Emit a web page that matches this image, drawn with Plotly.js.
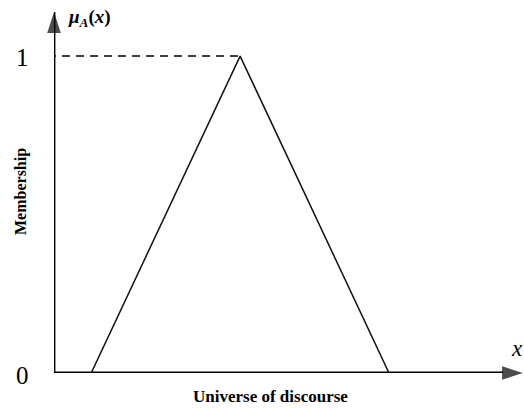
<!DOCTYPE html>
<html>
<head>
<meta charset="utf-8">
<script src="https://cdn.plot.ly/plotly-3.0.1.min.js"></script>
<style>html,body{margin:0;padding:0;background:#fff;}#chart{width:524px;height:409px;}</style>
</head>
<body>
<div id="chart"></div>
<script>
// Triangular membership function data
var xValues = [1, 5, 9];
var membership = [0, 1, 0];
var peakLevel = 1;
var tickLabels = ['0', '1'];
var tickValues = [0, 1];

var W = 524, H = 409;
var m = {l: 54, r: 1, t: 12, b: 36};
var xRange = [0, 12.6];
var yRange = [0, 1.139];
var serif = 'Liberation Serif, Times New Roman, serif';

// pixel -> paper helpers for text placement
function px(p) { return (p - m.l) / (W - m.l - m.r); }
function py(q) { return (H - m.b - q) / (H - m.t - m.b); }

var traces = [
  // membership triangle
  {
    x: xValues, y: membership, mode: 'lines', type: 'scatter',
    line: {color: '#111', width: 1.5}, hoverinfo: 'skip', cliponaxis: false
  },
  // dashed guide at the peak
  {
    x: [-0.16, xValues[1]], y: [peakLevel, peakLevel], mode: 'lines', type: 'scatter',
    line: {color: '#000', width: 1.5, dash: '8px,6px'}, hoverinfo: 'skip', cliponaxis: false
  },
  // y axis with arrow
  {
    x: [0, 0], y: [0, yRange[1]], mode: 'lines+markers', type: 'scatter',
    line: {color: '#000', width: 2.8},
    marker: {symbol: ['circle', 'arrow'], size: [0, 22], angleref: 'previous', color: '#000', line: {width: 0}},
    hoverinfo: 'skip', cliponaxis: false
  },
  // x axis with arrow
  {
    x: [-0.16, xRange[1]], y: [0, 0], mode: 'lines+markers', type: 'scatter',
    line: {color: '#000', width: 2.8},
    marker: {symbol: ['circle', 'arrow'], size: [0, 22], angleref: 'previous', color: '#000', line: {width: 0}},
    hoverinfo: 'skip', cliponaxis: false
  }
];

var annotations = [
  // tick labels
  {xref: 'paper', yref: 'y', x: px(22), y: tickValues[1], text: tickLabels[1], showarrow: false,
   xanchor: 'center', yanchor: 'middle', yshift: -1, font: {family: serif, size: 25, color: '#000'}},
  {xref: 'paper', yref: 'y', x: px(22), y: tickValues[0], text: tickLabels[0], showarrow: false,
   xanchor: 'center', yanchor: 'middle', yshift: -2, font: {family: serif, size: 25, color: '#000'}},
  // mu_A(x)
  {xref: 'paper', yref: 'paper', x: px(66), y: py(18), text: '<b><i>μ</i><sub><i>A</i></sub></b><b>(<i>x</i>)</b>', showarrow: false,
   xanchor: 'left', yanchor: 'middle', font: {family: serif, size: 19, color: '#000'}},
  // x label at arrow end
  {xref: 'paper', yref: 'paper', x: px(509), y: py(348), text: '<i>x</i>', showarrow: false,
   xanchor: 'left', yanchor: 'middle', font: {family: serif, size: 23, color: '#000'}},
  // axis titles
  {xref: 'paper', yref: 'paper', x: px(21), y: py(192), text: '<b>Membership</b>', showarrow: false,
   textangle: -90, xanchor: 'center', yanchor: 'middle', font: {family: serif, size: 16, color: '#000'}},
  {xref: 'paper', yref: 'paper', x: px(270), y: py(396), text: '<b>Universe of discourse</b>', showarrow: false,
   xanchor: 'center', yanchor: 'middle', font: {family: serif, size: 17, color: '#000'}}
];

var layout = {
  width: W, height: H,
  margin: m,
  paper_bgcolor: '#fff', plot_bgcolor: '#fff',
  showlegend: false,
  xaxis: {range: xRange, visible: false, fixedrange: true},
  yaxis: {range: yRange, visible: false, fixedrange: true},
  annotations: annotations
};

Plotly.newPlot('chart', traces, layout, {displayModeBar: false, staticPlot: true});
</script>
</body>
</html>
